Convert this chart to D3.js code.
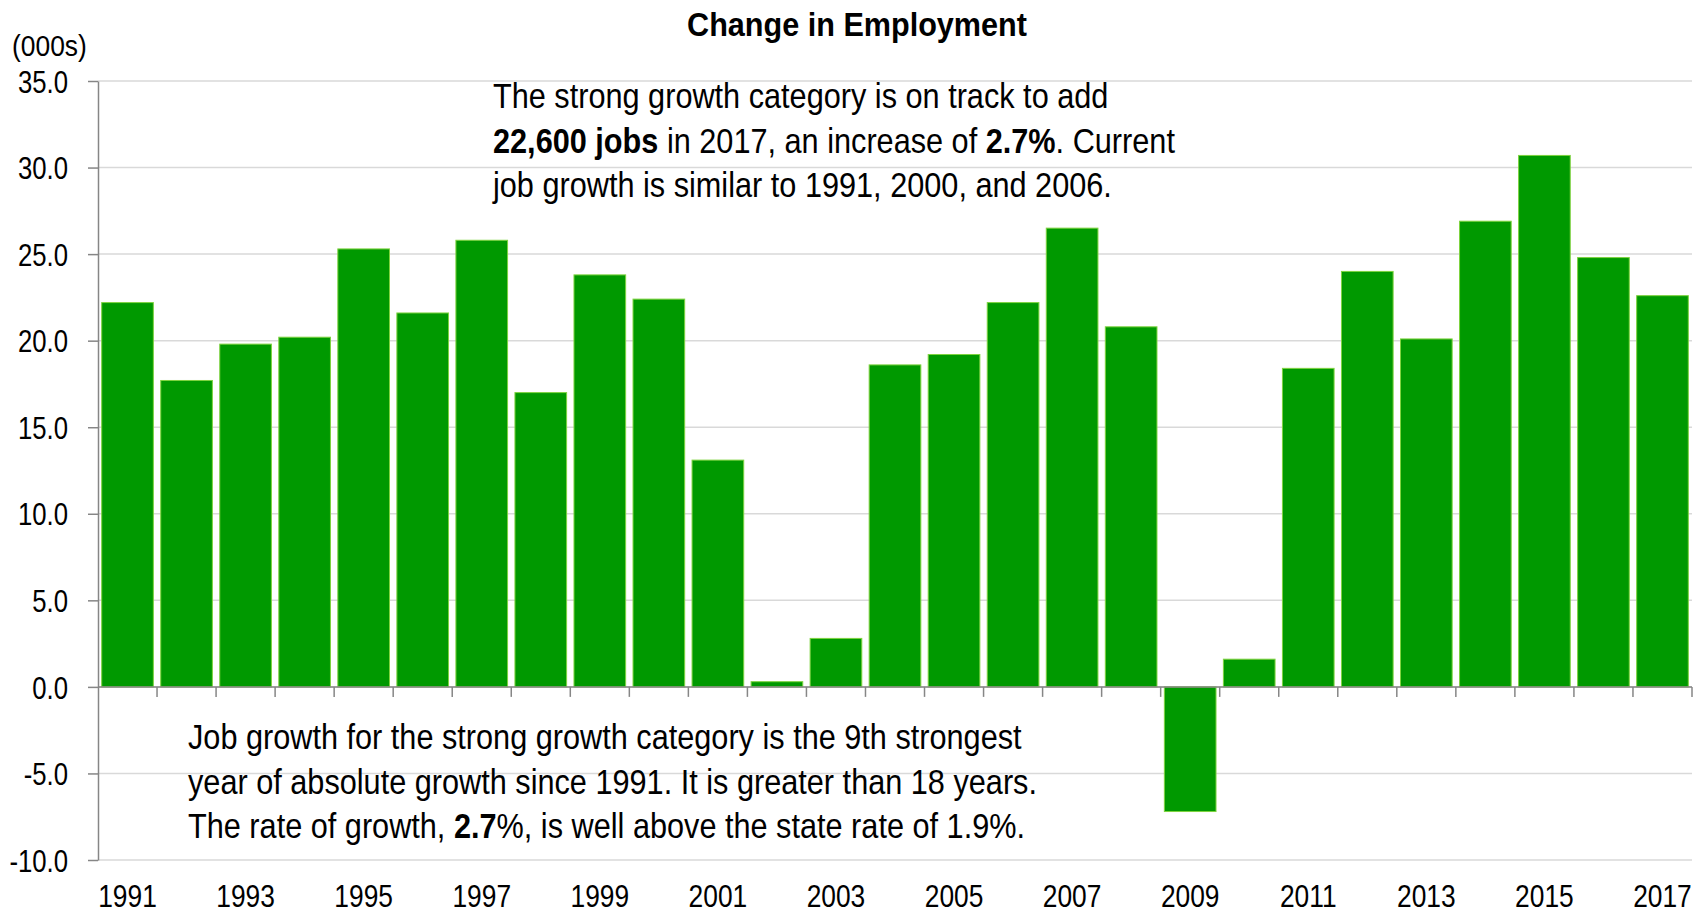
<!DOCTYPE html>
<html>
<head>
<meta charset="utf-8">
<script src="https://cdn.jsdelivr.net/npm/d3@7"></script>
<style>
  body { margin: 0; background: #fff; }
  svg text { font-family: "Liberation Sans Narrow", "Arial Narrow", "Liberation Sans", Arial, sans-serif; fill: #000; }
</style>
</head>
<body>
<svg id="chart"></svg>
<script>
// chart values (thousands of jobs)
const years = d3.range(1991, 2018).map(String);
const change = [22.2, 17.7, 19.8, 20.2, 25.3, 21.6, 25.8, 17.0, 23.8, 22.4, 13.1, 0.3, 2.8, 18.6,
                19.2, 22.2, 26.5, 20.8, -7.2, 1.6, 18.4, 24.0, 20.1, 26.9, 30.7, 24.8, 22.6];
const yTicks = [-10, -5, 0, 5, 10, 15, 20, 25, 30, 35];
const xLabels = years.filter((d, i) => i % 2 === 0);

const title = "Change in Employment";
const unitLabel = "(000s)";
const noteTop = [
  [["The strong growth category is on track to add", false]],
  [["22,600 jobs", true], [" in 2017, an increase of ", false], ["2.7%", true], [". Current", false]],
  [["job growth is similar to 1991, 2000, and 2006.", false]]
];
const noteBottom = [
  [["Job growth for the strong growth category is the 9th strongest", false]],
  [["year of absolute growth since 1991. It is greater than 18 years.", false]],
  [["The rate of growth, ", false], ["2.7", true], ["%, is well above the state rate of 1.9%.", false]]
];

const width = 1704, height = 914;
const marginTop = 81, marginRight = 12, marginBottom = 54, marginLeft = 98;
// the reference uses a narrow face; squeeze the regular one horizontally
const narrow = 0.83;

const svg = d3.select("#chart")
  .attr("width", width)
  .attr("height", height)
  .attr("viewBox", [0, 0, width, height]);

const x = d3.scaleBand(years, [marginLeft, width - marginRight])
  .paddingInner(0.125)
  .paddingOuter(0.0625);
const y = d3.scaleLinear([-10, 35], [height - marginBottom, marginTop]);

// gridlines
svg.append("g")
  .selectAll("line")
  .data(yTicks)
  .join("line")
    .attr("x1", marginLeft)
    .attr("x2", width - marginRight)
    .attr("y1", d => y(d))
    .attr("y2", d => y(d))
    .attr("stroke", "#d9d9d9")
    .attr("stroke-width", 1.5);

// y axis
svg.append("g")
  .attr("transform", `translate(${marginLeft},0)`)
  .call(d3.axisLeft(y).tickValues(yTicks)
    .tickFormat(d => d3.format(".1f")(d).replace("\u2212", "-"))
    .tickSize(10).tickSizeOuter(0))
  .call(g => g.select(".domain").attr("stroke", "#868686").attr("stroke-width", 1.5))
  .call(g => g.selectAll(".tick line").attr("stroke", "#868686").attr("stroke-width", 1.5))
  .call(g => g.selectAll(".tick text")
    .attr("x", 0)
    .attr("dy", "0.36em")
    .attr("transform", `translate(-30,0) scale(${narrow},1)`)
    .attr("font-size", 31)
    .attr("fill", "#000"))
  .attr("font-family", null);

// bars
svg.append("g")
  .selectAll("rect")
  .data(years)
  .join("rect")
    .attr("x", d => x(d))
    .attr("width", x.bandwidth())
    .attr("y", (d, i) => y(Math.max(0, change[i])))
    .attr("height", (d, i) => Math.abs(y(change[i]) - y(0)))
    .attr("fill", "#009900")
    .attr("stroke", "#7ed33f")
    .attr("stroke-width", 1);

// x axis line + ticks between categories
const xAxis = svg.append("g");
xAxis.append("line")
  .attr("x1", marginLeft)
  .attr("x2", width - marginRight)
  .attr("y1", y(0))
  .attr("y2", y(0))
  .attr("stroke", "#868686")
  .attr("stroke-width", 1.5);
xAxis.selectAll(".sep")
  .data(years)
  .join("line")
    .attr("class", "sep")
    .attr("x1", d => x(d) + x.bandwidth() + x.step() * x.paddingInner() / 2)
    .attr("x2", d => x(d) + x.bandwidth() + x.step() * x.paddingInner() / 2)
    .attr("y1", y(0))
    .attr("y2", y(0) + 10)
    .attr("stroke", "#868686")
    .attr("stroke-width", 1.5);

// year labels (every other year)
svg.append("g")
  .selectAll("text")
  .data(xLabels)
  .join("text")
    .attr("transform", d => `translate(${x(d) + x.bandwidth() / 2},907) scale(0.85,1)`)
    .attr("text-anchor", "middle")
    .attr("font-size", 31)
    .text(d => d);

// title and unit
svg.append("text")
  .attr("transform", "translate(857,36) scale(0.9,1)")
  .attr("text-anchor", "middle")
  .attr("font-size", 34)
  .attr("font-weight", "bold")
  .text(title);

svg.append("text")
  .attr("transform", `translate(12,56) scale(0.88,1)`)
  .attr("font-size", 30)
  .text(unitLabel);

// annotations
function note(lines, left, firstBaseline) {
  const t = svg.append("text")
    .attr("transform", `translate(${left},${firstBaseline}) scale(0.852,1)`)
    .attr("font-size", 36);
  lines.forEach((segs, i) => {
    segs.forEach(([str, bold], j) => {
      const s = t.append("tspan").text(str);
      if (j === 0) s.attr("x", 0).attr("y", i * 44.6);
      if (bold) s.attr("font-weight", "bold");
    });
  });
}
note(noteTop, 493, 108);
note(noteBottom, 188, 749);
</script>
</body>
</html>
